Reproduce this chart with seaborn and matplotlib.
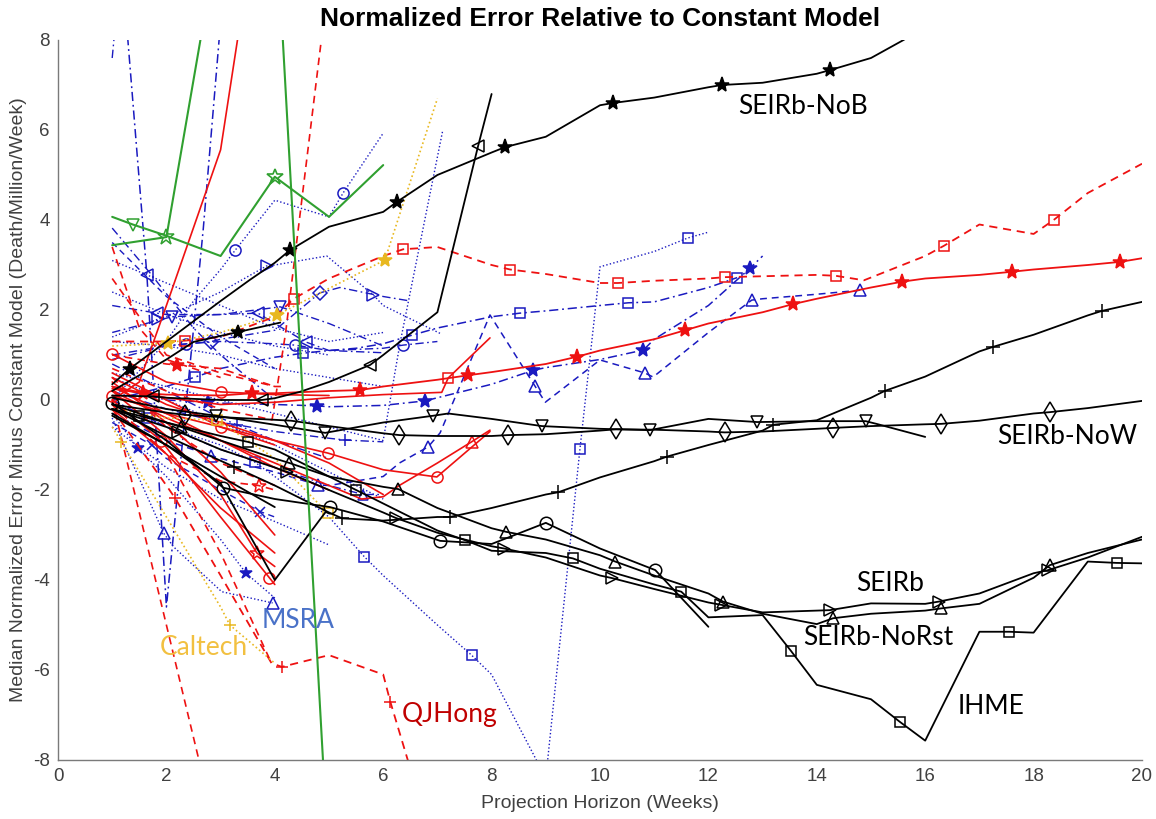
import numpy as np
import pandas as pd
import matplotlib
matplotlib.use("Agg")
import matplotlib.pyplot as plt
import seaborn as sns

# ---------------- data ----------------
# Black model lines
nob_x = [1, 1.33, 2, 3, 3.54, 4, 4.28, 5, 6, 6.25, 7, 8, 8.25, 9, 10, 10.24, 11, 12, 12.25, 13, 14, 14.24, 15, 15.6, 16]
nob_y = [0.35, 0.7, 1.3, 2.2, 2.67, 3.05, 3.33, 3.85, 4.18, 4.4, 5.0, 5.5, 5.62, 5.85, 6.55, 6.6, 6.72, 6.95, 7.0, 7.05, 7.25, 7.33, 7.6, 8.0, 8.3]
nob_mk = [1.33, 4.28, 6.25, 8.25, 10.24, 12.25, 14.24]

now_x = [1, 2, 2.34, 3, 4, 4.3, 5, 6, 6.3, 7, 8, 8.3, 9, 10, 10.3, 11, 12, 12.3, 13, 14, 14.3, 15, 16, 16.3, 17, 18, 18.3, 19, 20]
now_y = [-0.1, -0.28, -0.33, -0.38, -0.44, -0.46, -0.58, -0.74, -0.78, -0.8, -0.8, -0.78, -0.76, -0.68, -0.65, -0.66, -0.7, -0.72, -0.7, -0.64, -0.62, -0.58, -0.54, -0.53, -0.46, -0.3, -0.27, -0.18, -0.02]
now_mk = [2.34, 4.3, 6.3, 8.3, 10.3, 12.3, 14.3, 16.3, 18.3]

tdn_x = [1, 2, 2.92, 4, 4.93, 6, 6.92, 7.2, 8, 8.93, 10, 10.92, 12, 12.9, 14, 14.9, 15.1, 16]
tdn_y = [0.05, -0.2, -0.35, -0.55, -0.73, -0.5, -0.35, -0.3, -0.42, -0.58, -0.64, -0.67, -0.42, -0.49, -0.47, -0.47, -0.53, -0.82]
tdn_mk = [2.92, 4.93, 6.92, 8.93, 10.92, 12.9, 14.9]

plus_x = [1, 2, 3, 3.24, 4, 5, 5.24, 6, 7, 7.23, 8, 9, 9.23, 10, 11, 11.23, 12, 13, 13.2, 14, 15, 15.25, 16, 17, 17.25, 18, 19, 19.26, 20]
plus_y = [-0.2, -0.8, -1.35, -1.48, -1.9, -2.5, -2.63, -2.68, -2.6, -2.6, -2.4, -2.1, -2.05, -1.72, -1.36, -1.26, -1.0, -0.68, -0.55, -0.45, 0.05, 0.2, 0.52, 1.08, 1.18, 1.45, 1.88, 1.98, 2.18]
plus_mk = [3.24, 5.24, 7.23, 9.23, 11.23, 13.2, 15.25, 17.25, 19.26]

vee_x = [1, 2, 3, 4, 4.93]
vee_y = [-0.3, -1.0, -1.85, -4.0, -2.5]

ihme_x = [1, 1.5, 2, 3, 3.5, 4, 5, 5.5, 6, 7, 7.5, 8, 9, 9.5, 10, 11, 11.5, 12, 13, 13.52, 14, 15, 15.53, 16, 17, 17.55, 18, 19, 19.53, 20]
ihme_y = [-0.2, -0.35, -0.5, -0.8, -0.93, -1.1, -1.7, -2.0, -2.3, -2.9, -3.11, -3.35, -3.4, -3.52, -3.75, -4.1, -4.26, -4.83, -4.78, -5.57, -6.33, -6.65, -7.15, -7.57, -5.15, -5.15, -5.17, -3.59, -3.62, -3.63]
ihme_mk = [1.5, 3.5, 5.5, 7.5, 9.5, 11.5, 13.52, 15.53, 17.55, 19.53]

seirb_x = [1, 2, 2.22, 3, 4, 4.22, 5, 6, 6.23, 7, 8, 8.23, 9, 10, 10.23, 11, 12, 12.23, 13, 14, 14.24, 15, 16, 16.25, 17, 18, 18.27, 19, 20]
seirb_y = [-0.2, -0.6, -0.7, -1.1, -1.5, -1.6, -2.0, -2.5, -2.62, -2.95, -3.25, -3.3, -3.5, -3.9, -3.96, -4.2, -4.5, -4.55, -4.72, -4.68, -4.67, -4.52, -4.53, -4.48, -4.3, -3.85, -3.78, -3.5, -3.04]
seirb_mk = [2.22, 4.22, 6.23, 8.23, 10.23, 12.23, 14.24, 16.25, 18.27]

norst_x = [1, 2, 2.27, 3, 4, 4.27, 5, 6, 6.28, 7, 8, 8.27, 9, 10, 10.28, 11, 12, 12.27, 13, 14, 14.3, 15, 16, 16.3, 17, 18, 18.3, 19, 20]
norst_y = [-0.1, -0.5, -0.6, -0.9, -1.3, -1.4, -1.7, -1.93, -1.98, -2.4, -2.85, -2.93, -3.1, -3.45, -3.59, -3.9, -4.3, -4.48, -4.75, -4.98, -4.85, -4.75, -4.68, -4.63, -4.53, -3.95, -3.67, -3.4, -3.1]
norst_mk = [2.27, 4.27, 6.28, 8.27, 10.28, 12.27, 14.3, 16.3, 18.3]

kcirc_x = [1, 2, 3.05, 4, 5.02, 6, 7.05, 8, 9, 10, 11.02, 12]
kcirc_y = [-0.07, -0.9, -1.95, -2.2, -2.38, -2.7, -3.13, -3.2, -2.73, -3.3, -3.78, -5.04]
kcirc_mk = [1, 3.05, 5.02, 7.05, 9, 11.02]

ktl_x = [1, 1.75, 2, 3, 3.76, 4, 4.46, 5, 5.76, 6, 7, 7.75, 8]
ktl_y = [0.1, 0.08, 0.05, 0.0, 0.0, 0.04, 0.18, 0.4, 0.78, 1.0, 1.95, 5.64, 6.8]
ktl_mk = [1.75, 3.76, 5.76, 7.75]

kstar_x = [1, 2, 2.5, 3.32, 4.1]
kstar_y = [0.2, 0.9, 1.29, 1.51, 1.72]
kshort_x = [1, 2, 3, 4]
kshort_y = [-0.35, -1.0, -1.7, -2.38]

# Red lines
rsq_dash_x = [1, 2, 2.35, 3, 4, 4.35, 5, 6, 6.37, 7, 8, 8.34, 9, 10, 10.33, 11, 12, 12.3, 13, 14, 14.35, 14.87, 16, 16.35, 17, 18, 18.37, 19, 20]
rsq_dash_y = [1.3, 1.3, 1.32, 1.4, 1.85, 2.25, 2.7, 3.2, 3.35, 3.4, 3.0, 2.9, 2.8, 2.6, 2.6, 2.65, 2.7, 2.73, 2.75, 2.78, 2.76, 2.66, 3.2, 3.43, 3.9, 3.69, 4.0, 4.6, 5.25]
rsq_dash_mk = [2.35, 4.35, 6.37, 8.34, 10.33, 12.3, 14.35, 16.35, 18.37]

rstar_x = [1, 1.57, 2, 3, 3.58, 4, 5, 5.57, 6, 7, 7.57, 8, 9, 9.57, 10, 11, 11.57, 12, 13, 13.56, 14, 15, 15.58, 16, 17, 17.6, 18, 19, 19.6, 20]
rstar_y = [0.25, 0.15, 0.12, 0.1, 0.15, 0.15, 0.2, 0.22, 0.3, 0.45, 0.55, 0.62, 0.8, 0.96, 1.1, 1.35, 1.55, 1.7, 1.95, 2.13, 2.25, 2.5, 2.63, 2.7, 2.78, 2.85, 2.9, 3.0, 3.07, 3.15]
rstar_mk = [1.57, 3.58, 5.57, 7.57, 9.57, 11.57, 13.56, 15.58, 17.6, 19.6]

rsteep_x = [1, 2, 3, 3.95, 4.2, 5]
rsteep_y = [0.7, 0.2, -0.2, -0.44, 1.5, 9.4]

qj_x = [1, 2, 2.16, 3, 3.94, 4.13, 5, 6, 6.13, 7]
qj_y = [-0.2, -1.9, -2.18, -3.9, -5.85, -5.93, -5.67, -6.1, -6.7, -10.2]
qj_mk = [2.16, 4.13, 6.13]

rdown_x = [1, 2, 3]
rdown_y = [0.0, -5.0, -10.0]

rsolid_up_x = [1, 1.5, 2, 3, 4]
rsolid_up_y = [0.0, 0.4, 2.1, 5.56, 13.4]

rc1_x = [1, 2, 3, 4, 5]
rc1_y = [1.02, 0.4, 0.18, 0.12, 0.1]
rc2_x = [1, 2, 3, 4, 4.98, 6, 6.99, 7.97]
rc2_y = [0.1, -0.3, -0.6, -0.9, -1.18, -1.55, -1.71, -0.7]
rsq_x = [1, 2, 3, 4, 5, 6, 7.08, 7.2, 7.97]
rsq_y = [0.3, 0.05, -0.1, -0.05, 0.05, 0.12, 0.17, 0.49, 1.38]
rtri_x = [1, 2, 3, 4, 5, 5.6, 6, 6.31, 7, 7.63, 7.97]
rtri_y = [0.2, -0.4, -0.9, -1.4, -1.9, -2.2, -2.15, -1.89, -1.4, -0.93, -0.67]
r1_x, r1_y = [1, 2, 3, 4], [0.4, -0.5, -1.6, -3.0]
r2_x, r2_y = [1, 2, 3, 3.67, 4], [0.2, -0.8, -2.1, -3.4, -3.7]
r3_x, r3_y = [1, 1.9, 3, 3.9, 4], [0.0, -0.9, -2.6, -3.95, -4.1]
r4_x, r4_y = [1, 2, 3, 4, 5], [0.3, -0.3, -0.9, -1.5, -2.0]
r5_x, r5_y = [1, 2, 3, 4, 5, 6], [0.5, -0.1, -0.5, -0.9, -1.4, -2.1]
r6_x, r6_y = [1, 2, 3, 4], [-0.2, -1.2, -2.4, -3.4]
r7_x, r7_y = [1, 2, 3, 4], [0.6, 0.0, -0.6, -1.0]
rd1_x, rd1_y = [1, 2, 3, 4], [0.5, -0.6, -1.4, -1.9]
rd2_x, rd2_y = [1, 2, 3, 3.7, 4], [-0.1, -1.2, -1.8, -1.9, -2.0]
rd3_x, rd3_y = [1, 1.5, 2, 3], [3.4, 1.6, 0.9, 0.5]
rd4_x, rd4_y = [1, 2, 3, 4, 4.2], [2.7, 1.0, 0.6, 0.3, 0.3]
rd5_x, rd5_y = [1, 2, 2.19, 3, 4], [1.0, 0.8, 0.78, 0.7, 0.3]
rd6_x, rd6_y = [1, 2, 3, 3.94], [-0.1, -1.2, -3.4, -5.85]

# Blue lines
bsq_x = [1, 2, 2.53, 3, 4, 4.52, 5, 5.5, 6, 6.53, 7, 8, 8.52, 9, 10, 10.52, 11, 12, 12.53]
bsq_y = [0.0, 0.3, 0.51, 0.7, 0.95, 1.04, 1.1, 1.15, 1.25, 1.44, 1.6, 1.85, 1.93, 1.98, 2.1, 2.16, 2.18, 2.5, 2.72]
bsq_mk = [2.53, 4.52, 6.53, 8.52, 10.52, 12.53]
bstar_x = [1, 2, 2.77, 3, 4, 4.78, 5, 6, 6.77, 7, 8, 8.77, 9, 10, 10.8, 11, 12, 12.77, 13]
bstar_y = [0.3, 0.0, -0.05, -0.07, -0.1, -0.13, -0.15, -0.12, -0.02, 0.05, 0.35, 0.66, 0.72, 0.9, 1.11, 1.35, 2.1, 2.93, 3.2]
bstar_mk = [2.77, 4.78, 6.77, 8.77, 10.8, 12.77]
bzig_x = [1, 2, 2.83, 3, 4, 4.8, 5, 6, 6.3, 6.83, 7.05, 7.97, 8.8, 8.99, 10, 10.83, 10.98, 12, 12.8, 13, 14, 14.8]
bzig_y = [-0.3, -0.9, -1.24, -1.3, -1.6, -1.89, -1.9, -1.7, -1.4, -1.04, -0.73, 1.89, 0.31, -0.05, 0.89, 0.6, 0.51, 1.5, 2.22, 2.25, 2.35, 2.44]
bzig_mk = [2.83, 4.8, 6.83, 8.8, 10.83, 12.8, 14.8]
bdsq_x = [1, 1.65, 2, 3, 3.63, 4, 5, 5.65, 6, 7, 7.63, 8, 9, 9.63, 10, 11, 11.62, 12]
bdsq_y = [0.0, -0.4, -0.6, -1.0, -1.38, -1.7, -2.6, -3.48, -3.9, -5.0, -5.67, -6.1, -8.4, -1.09, 2.96, 3.3, 3.6, 3.73]
bdsq_mk = [1.65, 3.63, 5.65, 7.63, 9.63, 11.62]
bcup_x = [1, 2, 2.5, 3, 3.27, 4, 5, 5.26, 6]
bcup_y = [0.0, 1.3, 2.2, 2.9, 3.33, 4.44, 4.07, 4.6, 5.93]
bcup_mk = [3.27, 5.26]
btr_x = [1, 1.85, 2, 3, 3.85, 4, 4.96, 5.82, 6, 7.05]
btr_y = [1.4, 1.8, 1.85, 2.4, 2.98, 3.0, 3.2, 2.33, 2.1, 1.48]
btr_mk = [1.85, 3.85, 5.82]
bcm_x = [1, 2, 2.37, 3, 4, 4.37, 5, 6, 6.37, 7]
bcm_y = [1.0, 1.2, 1.25, 1.3, 1.25, 1.22, 1.1, 1.15, 1.22, 1.3]
bcm_mk = [2.37, 4.37, 6.37]
btl_x = [1, 1.82, 2, 3, 3.69, 4, 4.57, 5, 6]
btl_y = [2.1, 1.93, 1.9, 1.9, 1.93, 1.7, 1.29, 1.1, 1.05]
btl_mk = [1.82, 3.69, 4.57]
btd_x = [1, 2.1, 3, 4.1, 5, 6]
btd_y = [1.5, 1.85, 1.9, 2.07, 1.7, 1.2]
btd_mk = [2.1, 4.1]
bdia_x = [1, 2, 2.83, 3, 4, 4.83, 5.2, 6, 6.5]
bdia_y = [0.9, 1.2, 1.3, 1.35, 1.55, 2.38, 2.5, 2.3, 2.2]
bdia_mk = [2.83, 4.83]
msra_x = [1, 1.95, 2.13, 3.02, 3.96]
msra_y = [-0.4, -2.96, -3.26, -4.26, -4.51]
msra_mk = [1.95, 3.96]
bsd_x = [1, 1.47, 2, 3, 3.47, 4]
bsd_y = [-0.3, -1.07, -1.7, -3.1, -3.85, -4.4]
bsd_mk = [1.47, 3.47]
bx_x = [1, 1.73, 2, 3, 3.73, 4]
bx_y = [-0.5, -1.0, -1.3, -2.0, -2.48, -2.6]
bx_mk = [1.73, 3.73]
bplus_x = [1, 2, 3, 3.3, 4, 5, 5.3, 6]
bplus_y = [0.2, -0.2, -0.5, -0.55, -0.7, -0.85, -0.89, -0.93]
bplus_mk = [3.3, 5.3]
bv_x = [1, 1.64, 2, 2.68, 3]
bv_y = [12.3, 2.78, -4.6, 3.8, 8.4]
bv_mk = [1.64]
btop_x, btop_y = [1, 1.5], [7.6, 14.0]
bup7_x = [1, 2, 3, 4, 5, 6, 6.31, 7.1]
bup7_y = [0.6, 0.3, 0.0, -0.3, -0.6, -0.9, 1.26, 6.0]
b1_x, b1_y = [1, 2, 3, 4, 5], [2.4, 1.9, 1.5, 1.2, 1.0]
b2_x, b2_y = [1, 1.7, 2.5, 3, 4], [3.82, 2.82, 1.6, 1.0, 0.0]
b3_x, b3_y = [1, 2, 3, 4], [3.5, 2.3, 1.4, 0.7]
b4_x, b4_y = [1, 2, 3, 4, 5, 6], [3.1, 2.6, 2.1, 1.6, 1.3, 1.5]
b5_x, b5_y = [1, 2, 3, 4, 5, 6], [1.3, 1.2, 1.0, 0.7, 0.5, 0.3]
b7_x, b7_y = [1, 2, 3, 4, 5], [0.8, 0.2, -0.4, -0.9, -1.3]
b8_x, b8_y = [1, 2, 3, 4, 5, 6], [0.5, 0.0, -0.5, -1.0, -1.6, -2.2]
b9_x, b9_y = [1, 2, 3, 4, 5, 5.63, 6], [0.0, -0.6, -1.1, -1.5, -1.9, -2.1, -2.1]
b10_x, b10_y = [1, 2, 3, 4, 5], [-0.6, -1.5, -2.2, -2.7, -3.22]

# Gold lines
cal_x = [1, 1.17, 2, 3, 3.17, 4]
cal_y = [-0.6, -0.93, -2.6, -4.6, -5.0, -5.85]
cal_mk = [1.17, 3.17]
gup_x = [1, 2.03, 3, 4.04, 5, 6.03, 7]
gup_y = [1.2, 1.26, 1.5, 1.89, 2.48, 3.11, 6.7]
gup_mk = [2.03, 4.04, 6.03]
gsq_x = [1, 2, 2.93, 3, 4, 4.98]
gsq_y = [-0.2, -0.4, -0.45, -0.5, -1.3, -2.52]
gsq_mk = [2.93, 4.98]

# Green lines
ga_x = [1, 1.38, 2, 3, 4, 5, 6]
ga_y = [4.07, 3.9, 3.65, 3.2, 4.96, 4.07, 5.22]
gb_x = [1, 2, 3]
gb_y = [3.44, 3.62, 10.6]
gc_x = [4, 5]
gc_y = [11.2, -10.4]

# Labels
labels = ["SEIRb-NoB", "SEIRb-NoW", "SEIRb", "SEIRb-NoRst", "IHME", "MSRA", "Caltech", "QJHong"]
label_x = [12.55, 17.32, 14.72, 13.75, 16.59, 3.76, 1.88, 6.35]
label_y = [6.53, -0.82, -4.07, -5.27, -6.8, -4.91, -5.49, -6.98]
label_c = ["black", "black", "black", "black", "black", "#4A72C8", "#F2C040", "#C00000"]

xticks = list(range(0, 21, 2))
yticks = list(range(-8, 9, 2))

# ---------------- style ----------------
K, R, B, G, Y = "#000000", "#EE1111", "#1A1AC0", "#30A030", "#E8B820"
LS = {"-": "-", "--": (0, (4.5, 3.2)), ":": (0, (1, 1.6)), "-.": (0, (6, 2.5, 1.2, 2.5))}

sns.set_style("white")
plt.rcParams["font.family"] = ["Liberation Sans", "DejaVu Sans"]
plt.rcParams["axes.unicode_minus"] = False

fig = plt.figure(figsize=(11.56, 8.19), dpi=100)
ax = fig.add_axes([58 / 1156, 1 - 760 / 819, 1084 / 1156, 720 / 819])


def draw(x, y, color, ls, lw=1.0, marker=None, mk=None, ms=7, filled=False, z=2):
    df = pd.DataFrame({"x": x, "y": y})
    kw = {}
    if marker is not None:
        xa = np.asarray(x, dtype=float)
        idx = [int(np.argmin(np.abs(xa - m))) for m in mk]
        kw = dict(marker=marker, markevery=idx, markersize=ms,
                  markeredgecolor=color,
                  markerfacecolor=color if filled else "none",
                  markeredgewidth=1.1)
    sns.lineplot(data=df, x="x", y="y", ax=ax, color=color,
                 linestyle=LS[ls], linewidth=lw, sort=False,
                 estimator=None, zorder=z, **kw)


# blue
for xs, ys, ls in [(b1_x, b1_y, ":"), (b2_x, b2_y, "-."), (b3_x, b3_y, "--"),
                   (b4_x, b4_y, ":"), (b5_x, b5_y, ":"), (b7_x, b7_y, "-."),
                   (b8_x, b8_y, ":"), (b10_x, b10_y, ":"), (btop_x, btop_y, "-."),
                   (bup7_x, bup7_y, ":")]:
    draw(xs, ys, B, ls, lw=1.0)
draw(b9_x, b9_y, B, "-.", 1.0, "^", [5.63], 7)
draw(bsq_x, bsq_y, B, "-.", 1.1, "s", bsq_mk, 7)
draw(bstar_x, bstar_y, B, "-.", 1.1, "*", bstar_mk, 10, True)
draw(bzig_x, bzig_y, B, "--", 1.1, "^", bzig_mk, 8)
draw(bdsq_x, bdsq_y, B, ":", 1.0, "s", bdsq_mk, 7)
draw(bcup_x, bcup_y, B, ":", 1.0, "o", bcup_mk, 8)
draw(btr_x, btr_y, B, ":", 1.0, ">", btr_mk, 8)
draw(bcm_x, bcm_y, B, "-.", 1.0, "o", bcm_mk, 8)
draw(btl_x, btl_y, B, "-.", 1.0, "<", btl_mk, 8)
draw(btd_x, btd_y, B, "-.", 1.0, "v", btd_mk, 8)
draw(bdia_x, bdia_y, B, "-.", 1.0, "D", bdia_mk, 7)
draw(msra_x, msra_y, B, ":", 1.0, "^", msra_mk, 8)
draw(bsd_x, bsd_y, B, ":", 1.0, "*", bsd_mk, 9, True)
draw(bx_x, bx_y, B, "--", 1.0, "x", bx_mk, 7)
draw(bplus_x, bplus_y, B, "-.", 1.0, "+", bplus_mk, 8)
draw(bv_x, bv_y, B, "-.", 1.1, "<", bv_mk, 8)

# red
for xs, ys, ls in [(r1_x, r1_y, "-"), (r4_x, r4_y, "-"), (r5_x, r5_y, "-"),
                   (r6_x, r6_y, "-"), (r7_x, r7_y, "-"), (rd1_x, rd1_y, "--"),
                   (rd3_x, rd3_y, "--"), (rd4_x, rd4_y, "--"), (rd6_x, rd6_y, "--"),
                   (rdown_x, rdown_y, "--"), (rsteep_x, rsteep_y, "--"),
                   (rsolid_up_x, rsolid_up_y, "-")]:
    draw(xs, ys, R, ls, lw=1.2)
draw(r2_x, r2_y, R, "-", 1.2, "*", [3.67], 10)
draw(r3_x, r3_y, R, "-", 1.2, "o", [1.9, 3.9], 8)
draw(rd2_x, rd2_y, R, "--", 1.2, "*", [3.7], 10)
draw(rd5_x, rd5_y, R, "--", 1.2, "*", [2.19], 10, True)
draw(rc1_x, rc1_y, R, "-", 1.2, "o", [1, 3], 8)
draw(rc2_x, rc2_y, R, "-", 1.2, "o", [1, 3, 4.98, 6.99], 8)
draw(rsq_x, rsq_y, R, "-", 1.2, "s", [7.2], 7)
draw(rtri_x, rtri_y, R, "-", 1.2, "^", [7.63], 8)
draw(rsq_dash_x, rsq_dash_y, R, "--", 1.3, "s", rsq_dash_mk, 7)
draw(rstar_x, rstar_y, R, "-", 1.3, "*", rstar_mk, 11, True)
draw(qj_x, qj_y, R, "--", 1.3, "+", qj_mk, 9)

# gold
draw(cal_x, cal_y, Y, ":", 1.2, "+", cal_mk, 9)
draw(gup_x, gup_y, Y, ":", 1.2, "*", gup_mk, 10, True)
draw(gsq_x, gsq_y, Y, ":", 1.2, "s", gsq_mk, 7)

# black
draw(kstar_x, kstar_y, K, "-", 1.3, "*", [3.32], 10, True, 3)
draw(kshort_x, kshort_y, K, "-", 1.3, z=3)
draw(vee_x, vee_y, K, "-", 1.3, z=3)
draw(ktl_x, ktl_y, K, "-", 1.3, "<", ktl_mk, 9, False, 3)
draw(kcirc_x, kcirc_y, K, "-", 1.3, "o", kcirc_mk, 9, False, 3)
draw(tdn_x, tdn_y, K, "-", 1.3, "v", tdn_mk, 9, False, 3)
draw(plus_x, plus_y, K, "-", 1.3, "+", plus_mk, 10, False, 3)
draw(ihme_x, ihme_y, K, "-", 1.3, "s", ihme_mk, 7, False, 3)
draw(seirb_x, seirb_y, K, "-", 1.3, ">", seirb_mk, 9, False, 3)
draw(norst_x, norst_y, K, "-", 1.3, "^", norst_mk, 9, False, 3)
draw(now_x, now_y, K, "-", 1.3, "d", now_mk, 10, False, 3)
draw(nob_x, nob_y, K, "-", 1.3, "*", nob_mk, 11, True, 3)

# green
draw(ga_x, ga_y, G, "-", 1.5, "v", [1.38], 9, False, 4)
sns.lineplot(x=ga_x, y=ga_y, ax=ax, color=G, linestyle="none", marker="*",
             markevery=[4], markersize=12, markeredgecolor=G,
             markerfacecolor="none", markeredgewidth=1.2, sort=False,
             estimator=None, zorder=4)
draw(gb_x, gb_y, G, "-", 1.5, "*", [2], 12, False, 4)
draw(gc_x, gc_y, G, "-", 1.5, z=4)

# text labels
for t, x, y, c in zip(labels, label_x, label_y, label_c):
    ax.text(x, y, t, color=c, fontsize=19, family="Lato", ha="left", va="center", zorder=6)

# axes cosmetics
ax.set_xlim(0, 20)
ax.set_ylim(-8, 8)
ax.set_xticks(xticks)
ax.set_yticks(yticks)
for s in ["top", "right"]:
    ax.spines[s].set_visible(False)
for s in ["left", "bottom"]:
    ax.spines[s].set_color("#7a7a7a")
    ax.spines[s].set_linewidth(1.0)
ax.tick_params(direction="in", length=6, width=1.0, color="#7a7a7a",
               labelcolor="#404040", labelsize=13.5, pad=6)
ax.set_xlabel("Projection Horizon (Weeks)", fontsize=14, color="#404040")
ax.set_ylabel("Median Normalized Error Minus Constant Model (Death/Million/Week)",
              fontsize=14, color="#404040")
ax.xaxis.set_label_coords(0.5, -0.06)
ax.xaxis.label.set_va("center")
ax.yaxis.set_label_coords(-0.036, 0.5)
ax.yaxis.label.set_va("center")
ax.grid(False)
fig.text(600 / 1156, 1 - 19 / 819, "Normalized Error Relative to Constant Model",
         ha="center", va="center", fontsize=19, fontweight="bold", color="black")

fig.savefig("out.png", dpi=100, facecolor="white")
